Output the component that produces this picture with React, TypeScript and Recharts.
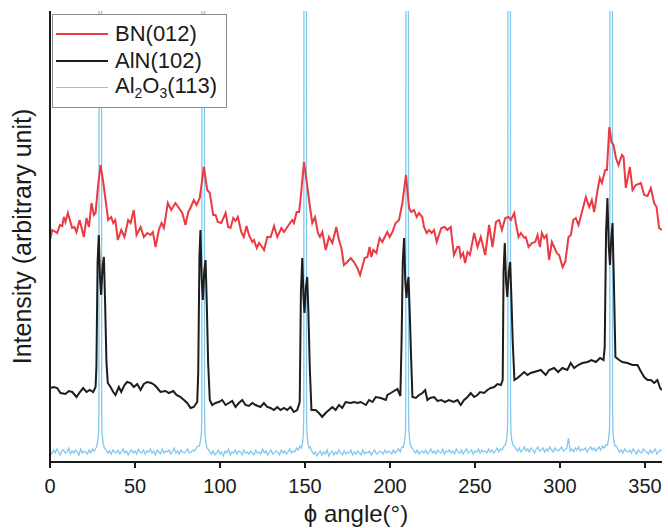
import { LineChart, Line, XAxis, YAxis, Legend, Label } from 'recharts';

const FONT = '"Liberation Sans", Arial, Helvetica, sans-serif';
const INK = '#1a1a1a';

const seriesNames = ['BN(012)', 'AlN(102)', 'Al2O3(113)'];
const seriesColors = ['#ea3a42', '#1d1d1d', '#84c8ee'];
const xTicks = [0, 50, 100, 150, 200, 250, 300, 350];

// BN(012) phi scan
const bnAngle = [
  0, 1.3, 3.3, 4.2, 5.8, 7.2, 8.2, 9.1, 10.5, 11.7, 13, 14.4, 15.6, 17.4, 18.9, 19.9, 21.5, 22.9, 24.4, 25.8,
  26.8, 28.2, 29.7, 31.3, 32.7, 34.2, 36, 37.2, 38.4, 39.9, 41.9, 43.8, 46, 47.4, 49.3, 50.9, 53.3, 55.2, 57.2, 59.1,
  60.5, 62.1, 64, 65.6, 67, 69.3, 71.3, 73.8, 75.8, 77.8, 79.7, 81.3, 82.6, 84.6, 86.2, 88.1, 90.5, 92.5, 94, 96,
  97.4, 98.7, 100.7, 102.3, 103.3, 104.8, 106.2, 107.8, 109.1, 110.5, 112.5, 114, 115.6, 117, 119, 120, 121.6, 123, 124.3, 125.9,
  127.8, 129.8, 131.8, 133.7, 136.1, 137.6, 139.6, 141.2, 142.5, 143.5, 145.1, 146.5, 147.5, 149.4, 151.4, 152.9, 154.3, 155.9, 157.6, 158.8,
  160.2, 162.2, 164.1, 166.1, 168.4, 170, 171.4, 172.9, 174.9, 176.9, 178.8, 180.8, 182.4, 183.7, 185.1, 186.7, 188, 189, 190.2, 192,
  193.9, 195.5, 196.9, 198.4, 199.8, 201.4, 203.3, 205.3, 207.3, 209.4, 211.2, 212.5, 214.1, 215.7, 217, 219, 220, 221.6, 223, 224.5,
  225.9, 227.5, 228.8, 230.2, 232.2, 233.7, 235.7, 237.6, 239.6, 240.7, 241.6, 243, 244.2, 245.6, 247, 249.5, 251.5, 253.4, 256, 258.3,
  260.3, 262.3, 264.2, 265.8, 267.8, 269.7, 271.1, 273.1, 274, 275.6, 277, 279, 279.9, 281.5, 283.5, 285.4, 286.8, 288.2, 289.3, 290.7,
  292.1, 293.6, 295.2, 296.6, 298.1, 299.5, 301.5, 303.1, 305, 306.4, 307.8, 309.3, 310.9, 312.9, 315.2, 317.2, 318.7, 320.1, 322.1, 323.4,
  324.6, 326.6, 327.6, 329, 330.3, 331.5, 332.9, 334.4, 336.4, 337.4, 338.7, 341.1, 342.7, 344.6, 347.6, 349.5, 351.5, 353.4, 355.4, 356.8,
  358.3, 360,
];
const bnValue = [
  222, 232, 230, 229, 237, 236, 245, 240, 249, 242, 234, 235, 230, 242, 232, 225, 244, 235, 259, 247,
  249, 275, 297, 280, 262, 242, 245, 239, 242, 222, 232, 225, 242, 239, 252, 227, 235, 225, 229, 227,
  230, 215, 232, 239, 234, 259, 252, 259, 254, 249, 237, 250, 254, 262, 257, 264, 295, 272, 269, 247,
  247, 240, 239, 245, 249, 235, 234, 244, 241, 245, 230, 225, 236, 227, 220, 222, 214, 219, 216, 212,
  225, 225, 236, 225, 234, 230, 235, 239, 242, 239, 250, 250, 265, 300, 275, 255, 239, 245, 229, 225,
  230, 212, 225, 219, 235, 222, 214, 197, 200, 204, 200, 194, 187, 195, 204, 205, 215, 205, 212, 209,
  224, 220, 225, 230, 225, 230, 239, 242, 259, 287, 254, 250, 252, 245, 249, 245, 235, 229, 232, 229,
  232, 220, 227, 234, 235, 232, 235, 207, 215, 215, 205, 209, 199, 210, 207, 229, 215, 225, 207, 237,
  215, 240, 242, 232, 244, 245, 242, 249, 239, 225, 229, 224, 225, 215, 219, 220, 227, 215, 229, 224,
  227, 202, 220, 215, 209, 207, 195, 200, 225, 227, 242, 244, 237, 250, 265, 255, 262, 250, 272, 284,
  279, 292, 292, 335, 320, 317, 304, 297, 307, 305, 274, 295, 272, 277, 279, 267, 266, 274, 259, 255,
  234, 232,
];

// AlN(102) phi scan
const alnAngle = [
  0, 2.3, 4.2, 6.2, 9.1, 11.1, 13.1, 15.6, 17.6, 19.5, 21.5, 23.4, 25.4, 26.8, 27.3, 28, 28.7, 29.4, 30.1, 30.9,
  31.7, 32.4, 33.2, 34, 35.6, 37.2, 38.5, 40.5, 41.9, 43.8, 45.4, 47.4, 49.3, 51.3, 53.3, 55.2, 57.2, 59.5, 61.5, 63.1,
  65, 68, 69.9, 72.5, 74.4, 76.8, 78.8, 80.7, 82.7, 84.6, 86.6, 87.2, 87.9, 88.5, 89.2, 89.9, 90.7, 91.5, 92.2, 93,
  94, 95.4, 97.4, 99.3, 101.3, 103.3, 105.2, 107.2, 109.1, 111.1, 113.1, 115, 117, 119, 120.9, 123.8, 125.8, 127.8, 129.7, 131.7,
  133.7, 135.6, 137.6, 139.5, 141.5, 143.4, 145.4, 146.9, 147.6, 148.4, 149.1, 149.7, 150.5, 151.3, 152, 152.8, 153.8, 156.2, 158.2, 160.1,
  162.1, 164.1, 166.1, 168, 170, 171.9, 173.9, 176.8, 178.9, 180.9, 182.8, 185.8, 187.7, 189.7, 191.6, 194.6, 197.5, 198.5, 200.5, 202.4,
  204.4, 206.1, 206.8, 207.5, 208.3, 209, 209.7, 210.3, 210.9, 211.6, 212.4, 213.2, 215.2, 217.1, 219.1, 220.7, 222, 223.6, 226, 227.9,
  230.3, 232.2, 234.8, 237.3, 239.7, 241.6, 243.6, 245.6, 247.5, 249.5, 251.4, 253, 255.4, 257.3, 259.3, 261.3, 263.2, 265.2, 266.3, 266.8,
  267.5, 268.3, 269, 269.9, 270.7, 271.4, 272.2, 273.2, 275, 277, 278.9, 280.9, 282.8, 284.8, 286.7, 288.7, 291.6, 293.6, 296.5, 298.9,
  301.4, 304.3, 306.3, 308.3, 310.7, 313.2, 316.2, 318.5, 321.1, 323.6, 325.6, 326.3, 327.1, 327.9, 328.7, 329.4, 330.2, 330.9, 331.7, 332.6,
  334.8, 336.7, 339.7, 342.6, 345.6, 347.1, 349.5, 351.5, 353.4, 355.4, 357.3, 358.9, 360,
];
const alnValue = [
  74, 75, 74, 69, 68, 71, 70, 65, 70, 74, 70, 72, 70, 75, 95, 200, 227, 185, 167, 195,
  205, 160, 100, 79, 75, 70, 67, 75, 70, 77, 80, 79, 75, 78, 72, 78, 80, 79, 77, 74,
  70, 71, 69, 71, 67, 65, 62, 59, 54, 55, 60, 90, 205, 232, 185, 162, 190, 202, 160, 100,
  62, 57, 59, 60, 62, 57, 59, 61, 55, 59, 62, 57, 56, 59, 57, 55, 59, 55, 54, 52,
  55, 52, 54, 52, 55, 50, 52, 60, 170, 204, 165, 149, 175, 185, 150, 95, 52, 52, 49, 45,
  49, 52, 55, 52, 57, 54, 60, 59, 60, 59, 60, 57, 62, 60, 65, 64, 62, 67, 69, 71,
  73, 66, 120, 200, 224, 180, 164, 178, 185, 150, 105, 65, 64, 67, 69, 72, 62, 64, 65, 61,
  62, 60, 62, 60, 62, 57, 62, 65, 69, 65, 67, 70, 69, 72, 74, 75, 78, 77, 82, 190,
  219, 180, 165, 190, 200, 165, 120, 82, 84, 87, 90, 87, 89, 90, 91, 92, 87, 92, 94, 90,
  94, 92, 99, 94, 97, 99, 100, 102, 100, 104, 102, 115, 230, 264, 215, 197, 225, 239, 180, 105,
  102, 100, 99, 97, 97, 92, 85, 82, 82, 79, 82, 74, 72,
];

// Al2O3(113) phi scan: 1 degree steps, sharp substrate peaks listed separately
const al2o3Step = 1;
const al2o3Base = [
  11, 8, 12, 9, 13, 10, 7, 11, 12, 9, 10, 14, 8, 11, 9, 12, 10, 7, 13, 9,
  11, 10, 8, 12, 9, 13, 11, 14, 16, 20, 20, 16, 14, 12, 9, 11, 8, 12, 10, 9,
  12, 8, 10, 13, 9, 11, 7, 10, 12, 9, 11, 8, 13, 10, 9, 12, 8, 11, 10, 13,
  9, 11, 7, 12, 10, 8, 13, 9, 11, 10, 12, 8, 10, 14, 9, 11, 8, 12, 10, 9,
  11, 13, 9, 10, 12, 11, 14, 16, 20, 20, 20, 20, 16, 13, 10, 8, 11, 7, 9, 12,
  8, 10, 6, 11, 9, 13, 7, 10, 9, 12, 8, 11, 10, 7, 12, 9, 10, 8, 11, 9,
  7, 12, 9, 10, 8, 13, 9, 11, 7, 10, 12, 8, 9, 11, 10, 7, 12, 9, 11, 8,
  10, 13, 9, 11, 10, 14, 12, 16, 20, 20, 20, 20, 20, 15, 11, 8, 10, 6, 9, 11,
  7, 10, 8, 12, 6, 9, 11, 7, 10, 8, 12, 9, 7, 11, 8, 10, 9, 12, 7, 10,
  8, 11, 9, 7, 12, 8, 10, 9, 11, 7, 10, 12, 8, 9, 11, 10, 8, 12, 9, 11,
  10, 8, 12, 9, 11, 13, 10, 15, 20, 20, 20, 20, 20, 14, 11, 9, 12, 8, 10, 11,
  9, 12, 8, 10, 13, 9, 11, 8, 12, 10, 9, 13, 8, 11, 10, 12, 9, 11, 8, 13,
  10, 9, 12, 8, 11, 13, 9, 10, 12, 8, 11, 10, 13, 9, 12, 10, 11, 9, 13, 10,
  12, 9, 11, 14, 10, 13, 12, 16, 20, 20, 20, 20, 20, 16, 13, 11, 14, 10, 12, 15,
  11, 13, 10, 14, 12, 9, 13, 15, 11, 12, 14, 10, 13, 11, 15, 12, 10, 14, 12, 11,
  13, 15, 11, 12, 14, 24, 11, 13, 10, 14, 12, 15, 11, 13, 12, 14, 10, 13, 15, 12,
  14, 11, 13, 15, 12, 16, 14, 17, 20, 20, 20, 20, 20, 16, 13, 10, 12, 9, 13, 11,
  10, 12, 9, 13, 11, 8, 12, 10, 9, 13, 11, 10, 8, 12, 9, 11, 13, 8, 10, 12,
  11,
];
const al2o3PeakAngles = [
  [27.4, 28.1, 28.6, 28.8, 28.9, 30.3, 30.4, 30.6, 31.1, 31.8],
  [87.9, 88.6, 89.1, 89.3, 89.4, 90.8, 90.9, 91.1, 91.6, 92.3],
  [147.9, 148.6, 149.1, 149.3, 149.4, 150.8, 150.9, 151.1, 151.6, 152.3],
  [207.9, 208.6, 209.1, 209.3, 209.4, 210.8, 210.9, 211.1, 211.6, 212.3],
  [267.9, 268.6, 269.1, 269.3, 269.4, 270.8, 270.9, 271.1, 271.6, 272.3],
  [327.9, 328.6, 329.1, 329.3, 329.4, 330.8, 330.9, 331.1, 331.6, 332.3],
];
const al2o3PeakValues = [
  [15, 21, 30, 55, 700, 700, 55, 30, 21, 15],
  [16, 22, 31, 56, 700, 700, 54, 29, 20, 14],
  [14, 20, 29, 54, 700, 700, 55, 30, 21, 14],
  [15, 21, 30, 55, 700, 700, 56, 31, 21, 15],
  [17, 23, 32, 57, 700, 700, 57, 32, 22, 17],
  [17, 23, 32, 58, 700, 700, 57, 31, 22, 16],
];

const bnData = bnAngle.map((x, i) => ({ x, y: bnValue[i] }));
const alnData = alnAngle.map((x, i) => ({ x, y: alnValue[i] }));
const al2o3Data = (() => {
  const windows = al2o3PeakAngles.map((a) => [a[0], a[a.length - 1]]);
  const base = al2o3Base
    .map((y, i) => ({ x: i * al2o3Step, y }))
    .filter((p) => !windows.some(([lo, hi]) => p.x >= lo && p.x <= hi));
  const peaks = al2o3PeakAngles.flatMap((a, j) => a.map((x, k) => ({ x, y: al2o3PeakValues[j][k] })));
  return [...base, ...peaks].sort((p, q) => p.x - q.x);
})();

function Al2O3Name() {
  const sub = { fontSize: 14, verticalAlign: '-5px', lineHeight: 1 };
  return (
    <span>
      Al<span style={sub}>2</span>O<span style={sub}>3</span>(113)
    </span>
  );
}

function LegendBox() {
  const rows = [
    { color: seriesColors[0], width: 2, text: <span>{seriesNames[0]}</span> },
    { color: seriesColors[1], width: 2, text: <span>{seriesNames[1]}</span> },
    { color: seriesColors[2], width: 1.5, text: <Al2O3Name /> },
  ];
  return (
    <div
      style={{
        width: 175,
        height: 94,
        boxSizing: 'border-box',
        border: '1px solid #8c8c8c',
        background: '#fff',
        padding: '6px 0 0 3px',
        fontFamily: FONT,
        fontSize: 22,
        color: INK,
      }}
    >
      {rows.map((r, i) => (
        <div key={i} style={{ display: 'flex', alignItems: 'center', height: 26.5, lineHeight: 1 }}>
          <span style={{ width: 52, height: 0, borderTop: `${r.width}px solid ${r.color}`, marginRight: 7 }} />
          {r.text}
        </div>
      ))}
    </div>
  );
}

export default function App() {
  const axisStroke = { stroke: INK, strokeWidth: 2 };
  return (
    <div style={{ width: 668, height: 528, background: '#fff' }}>
      <style>{'body{margin:0}'}</style>
      <LineChart width={668} height={528} margin={{ top: 11, right: 6, bottom: 0, left: 0 }}>
        <XAxis
          xAxisId="b"
          dataKey="x"
          type="number"
          domain={[0, 360]}
          ticks={xTicks}
          allowDataOverflow
          height={66}
          axisLine={axisStroke}
          tickLine={axisStroke}
          tickSize={6}
          tickMargin={11}
          tick={{ fill: INK, fontSize: 20, fontFamily: FONT }}
        >
          <Label
            value="ϕ angle(°)"
            position="insideBottom"
            offset={6}
            style={{ fill: INK, fontSize: 24, fontFamily: FONT }}
          />
        </XAxis>
        <XAxis
          xAxisId="t"
          orientation="top"
          type="number"
          domain={[0, 360]}
          height={0}
          axisLine={axisStroke}
          tick={false}
          tickLine={false}
        />
        <YAxis
          yAxisId="l"
          type="number"
          domain={[0, 451]}
          allowDataOverflow
          width={50}
          axisLine={axisStroke}
          tick={false}
          tickLine={false}
        >
          <Label
            value="Intensity (arbitrary unit)"
            angle={-90}
            position="insideLeft"
            offset={22}
            style={{ fill: INK, fontSize: 25, fontFamily: FONT, textAnchor: 'middle' }}
          />
        </YAxis>
        <YAxis
          yAxisId="r"
          orientation="right"
          type="number"
          domain={[0, 451]}
          width={0}
          axisLine={axisStroke}
          tick={false}
          tickLine={false}
        />
        <Legend
          layout="vertical"
          align="center"
          verticalAlign="middle"
          wrapperStyle={{ top: 14, left: 52, width: 'auto' }}
          content={() => <LegendBox />}
        />
        <Line
          xAxisId="b"
          yAxisId="l"
          data={al2o3Data}
          dataKey="y"
          name={seriesNames[2]}
          type="linear"
          stroke={seriesColors[2]}
          strokeWidth={1.3}
          dot={false}
          isAnimationActive={false}
        />
        <Line
          xAxisId="b"
          yAxisId="l"
          data={alnData}
          dataKey="y"
          name={seriesNames[1]}
          type="linear"
          stroke={seriesColors[1]}
          strokeWidth={2}
          dot={false}
          isAnimationActive={false}
        />
        <Line
          xAxisId="b"
          yAxisId="l"
          data={bnData}
          dataKey="y"
          name={seriesNames[0]}
          type="linear"
          stroke={seriesColors[0]}
          strokeWidth={2}
          dot={false}
          isAnimationActive={false}
        />
      </LineChart>
    </div>
  );
}
